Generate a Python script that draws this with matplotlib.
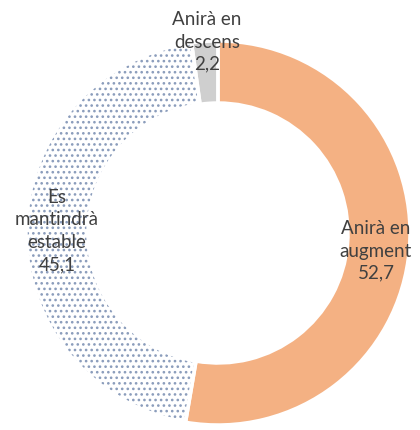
import matplotlib.pyplot as plt

# valors del gràfic
etiquetes = ['Anirà en\naugment', 'Es\nmantindrà\nestable', 'Anirà en\ndescens']
valors = [52.7, 45.1, 2.2]
colors = ['#F4B183', 'white', '#CFCFCF']
hatches = [None, '...', None]

plt.rcParams['font.family'] = ['Lato', 'DejaVu Sans']
plt.rcParams['hatch.linewidth'] = 1.1

fig = plt.figure(figsize=(4.2, 4.3), dpi=100)
ax = fig.add_axes([0, 0, 1, 1])

centre = (218, 197)
radi = 192
gruix = 62

wedges, _ = ax.pie(valors, colors=colors, startangle=90, counterclock=False,
                   center=centre, radius=radi, frame=True,
                   wedgeprops=dict(width=gruix, linewidth=0))
for w, h in zip(wedges, hatches):
    if h:
        w.set_hatch(h)
        w.set_edgecolor('#8A9CBB')

# separadors blancs
ax.pie(valors, colors=['none'] * 3, startangle=90, counterclock=False,
       center=centre, radius=radi, frame=True,
       wedgeprops=dict(width=gruix, linewidth=2.5, edgecolor='white', fill=False))
ax.set_xlim(0, 420)
ax.set_ylim(0, 430)
ax.axis('off')

posicions = [(376, 179), (57, 199), (207, 388)]
for text, v, (x, y) in zip(etiquetes, valors, posicions):
    ax.text(x, y, text + '\n' + f'{v:.1f}'.replace('.', ','), ha='center', va='center',
            fontsize=13.5, color='#404040', linespacing=1.38)

fig.savefig('out.png', dpi=100)
